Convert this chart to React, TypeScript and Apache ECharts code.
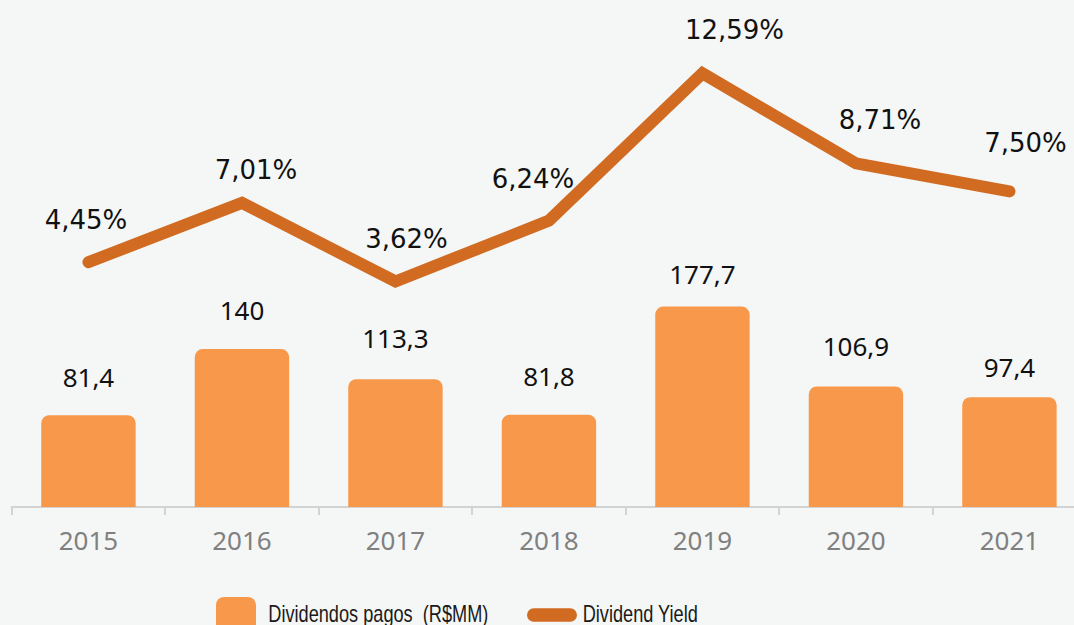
import React, { useEffect, useRef } from "react";
import * as echarts from "echarts";

const years = ["2015", "2016", "2017", "2018", "2019", "2020", "2021"];
const dividends = [81.4, 140, 113.3, 81.8, 177.7, 106.9, 97.4];
const yields = [4.45, 7.01, 3.62, 6.24, 12.59, 8.71, 7.5];
const barName = "Dividendos pagos  (R$MM)";
const lineName = "Dividend Yield";

const BAR_COLOR = "#F7984A";
const LINE_COLOR = "#D16B22";
const LEGEND_FONT = "'Liberation Sans', Arial, sans-serif";

// label placement tweaks (layout only)
const barLabelDy = [-25.5, -26.5, -28, -25.5, -19.7, -27, -17];
const lineLabelOffsets: [number, number][] = [
  [-2.5, -29],
  [14, -19],
  [11, -29],
  [-16, -28],
  [32, -30],
  [24, -30],
  [16, -35],
];

export default function App() {
  const ref = useRef<HTMLDivElement>(null);
  useEffect(() => {
    if (!ref.current) return;
    const chart = echarts.init(ref.current, null, { renderer: "svg" });
    chart.setOption({
      animation: false,
      backgroundColor: "#F5F7F6",
      grid: { left: 11.7, top: 0, width: 1074.5, height: 507, containLabel: false },
      graphic: [
        {
          type: "rect",
          shape: { x: 216, y: 597, width: 40, height: 40, r: [8, 8, 0, 0] },
          style: { fill: BAR_COLOR },
        },
        {
          type: "text",
          x: 268.3,
          y: 614,
          scaleX: 0.79,
          style: {
            text: barName,
            fill: "#1a1a1a",
            font: `23px ${LEGEND_FONT}`,
            verticalAlign: "middle",
            align: "left",
          },
        },
        {
          type: "rect",
          shape: { x: 527, y: 608.3, width: 50, height: 13.4, r: 6.7 },
          style: { fill: LINE_COLOR },
        },
        {
          type: "text",
          x: 582.7,
          y: 614,
          scaleX: 0.79,
          style: {
            text: lineName,
            fill: "#1a1a1a",
            font: `23px ${LEGEND_FONT}`,
            verticalAlign: "middle",
            align: "left",
          },
        },
      ],
      xAxis: {
        type: "category",
        data: years,
        axisLine: { show: true, lineStyle: { color: "#D3D3D3", width: 2 } },
        axisTick: { show: true, length: 8, lineStyle: { color: "#D3D3D3", width: 2 } },
        axisLabel: {
          margin: 20,
          fontFamily: "'Noto Sans', sans-serif",
          fontSize: 26,
          color: "#808080",
        },
      },
      yAxis: [
        { type: "value", show: false, min: 0, max: 449.5, splitLine: { show: false } },
        { type: "value", show: false, min: -6.1, max: 15.75, splitLine: { show: false } },
      ],
      series: [
        {
          name: barName,
          type: "bar",
          yAxisIndex: 0,
          barWidth: "61.5%",
          itemStyle: { color: BAR_COLOR, borderRadius: [8, 8, 0, 0] },
          data: dividends.map((v, i) => ({
            value: v,
            label: { offset: [0, barLabelDy[i]] },
          })),
          label: {
            show: true,
            position: "top",
            distance: 0,
            fontFamily: "'Noto Sans', sans-serif",
            fontSize: 26,
            color: "#111111",
            formatter: (p: any) => String(p.value).replace(".", ","),
          },
        },
        {
          name: lineName,
          type: "line",
          yAxisIndex: 1,
          symbol: "circle",
          symbolSize: 1,
          showSymbol: true,
          itemStyle: { color: LINE_COLOR },
          lineStyle: { color: LINE_COLOR, width: 12, cap: "round", join: "miter" },
          data: yields.map((v, i) => ({
            value: v,
            label: { offset: lineLabelOffsets[i] },
          })),
          label: {
            show: true,
            position: "top",
            distance: 0,
            fontFamily: "'DejaVu Sans', sans-serif",
            fontSize: 26,
            color: "#111111",
            formatter: (p: any) => p.value.toFixed(2).replace(".", ",") + "%",
          },
          z: 3,
        },
      ],
    });
    return () => chart.dispose();
  }, []);
  return (
    <div
      style={{
        position: "absolute",
        left: 0,
        top: 0,
        width: 1074,
        height: 625,
        overflow: "hidden",
      }}
    >
      <div ref={ref} style={{ width: 1100, height: 625 }} />
    </div>
  );
}
